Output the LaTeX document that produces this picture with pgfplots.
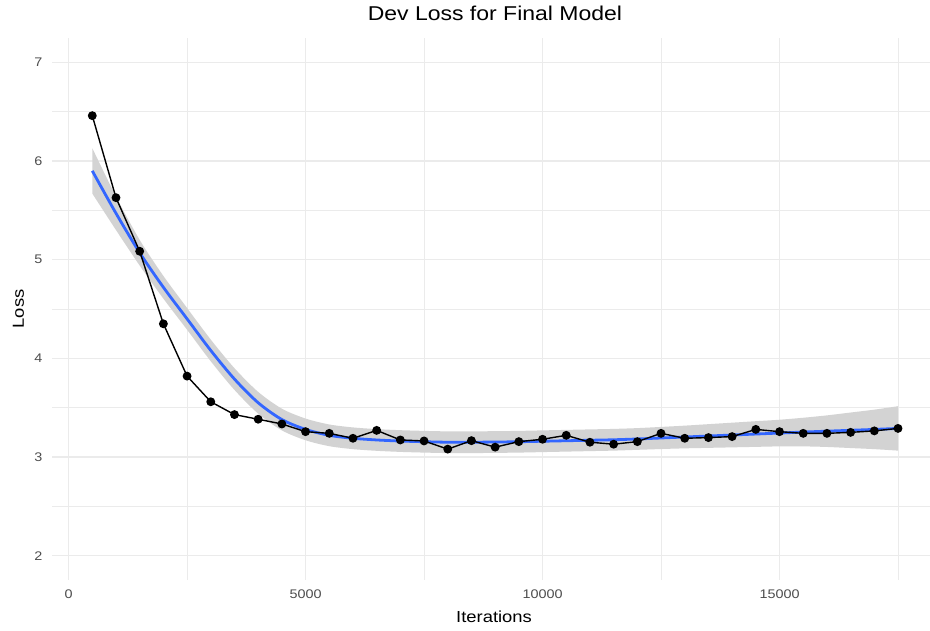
\documentclass[border=0pt]{standalone}
\usepackage{pgfplots}
\pgfplotsset{compat=1.18}
\usepackage{pgfplotstable}
\usepgfplotslibrary{fillbetween}
\usepackage{fontspec}
\setmainfont[FakeStretch=1.15]{Liberation Sans}
\definecolor{gridc}{HTML}{EBEBEB}
\definecolor{ribbonc}{HTML}{D3D3D3}
\definecolor{smoothblue}{HTML}{3366FF}
\definecolor{ticktext}{HTML}{4D4D4D}

\pgfplotstableread{
x y
500 6.459
1000 5.628
1500 5.085
2000 4.35
2500 3.82
3000 3.56
3500 3.43
4000 3.383
4500 3.335
5000 3.257
5500 3.24
6000 3.19
6500 3.27
7000 3.173
7500 3.163
8000 3.08
8500 3.166
9000 3.10
9500 3.156
10000 3.18
10500 3.22
11000 3.15
11500 3.13
12000 3.156
12500 3.24
13000 3.19
13500 3.197
14000 3.207
14500 3.28
15000 3.257
15500 3.24
16000 3.24
16500 3.25
17000 3.265
17500 3.29
}\lossdata

\pgfplotstableread{
x fit lo hi
500 5.90 5.67 6.13
1000 5.47 5.30 5.64
1500 5.07 4.94 5.20
2000 4.72 4.605 4.835
2500 4.40 4.29 4.51
3000 4.08 3.97 4.19
3500 3.79 3.68 3.90
4000 3.55 3.44 3.66
4500 3.38 3.27 3.49
5000 3.28 3.17 3.39
5500 3.22 3.11 3.33
6000 3.19 3.08 3.30
6500 3.173 3.063 3.283
7000 3.162 3.052 3.272
7500 3.155 3.045 3.265
8000 3.15 3.04 3.26
8500 3.15 3.04 3.26
9000 3.152 3.042 3.262
9500 3.155 3.045 3.265
10000 3.16 3.05 3.27
10500 3.165 3.055 3.275
11000 3.17 3.06 3.28
11500 3.175 3.065 3.285
12000 3.183 3.073 3.293
12500 3.193 3.081 3.305
13000 3.203 3.088 3.318
13500 3.213 3.093 3.333
14000 3.223 3.098 3.348
14500 3.233 3.103 3.363
15000 3.243 3.108 3.378
15500 3.253 3.108 3.398
16000 3.262 3.102 3.422
16500 3.271 3.091 3.451
17000 3.28 3.08 3.48
17500 3.29 3.065 3.515
}\fitdata

\begin{document}
\begin{tikzpicture}
\begin{axis}[
  at={(52pt,50pt)}, anchor=south west,
  scale only axis, width=878pt, height=542pt,
  xmin=-350, xmax=18175, ymin=1.754, ymax=7.246,
  xtick={0,5000,10000,15000}, ytick={2,3,4,5,6,7},
  minor xtick={2500,7500,12500,17500},
  minor ytick={2.5,3.5,4.5,5.5,6.5},
  scaled x ticks=false, scaled y ticks=false,
  grid=both,
  major grid style={draw=gridc, line width=1.1pt},
  minor grid style={draw=gridc, line width=0.7pt},
  axis line style={draw=none},
  tick style={draw=none},
  major tick length=0pt, minor tick length=0pt,
  /pgf/number format/assume math mode=true,
  /pgf/number format/1000 sep={},
  xticklabel style={font=\fontsize{12.5}{14}\selectfont, color=ticktext, yshift=-6pt},
  yticklabel style={font=\fontsize{12.5}{14}\selectfont, color=ticktext, xshift=-6pt},
  title={Dev Loss for Final Model},
  title style={font=\fontsize{20}{24}\selectfont, at={(axis description cs:0.5045,1.0208)}, anchor=base},
  xlabel={Iterations},
  xlabel style={font=\fontsize{16}{19}\selectfont, at={(axis description cs:0.5035,-0.0793)}, anchor=base},
  ylabel={Loss},
  ylabel style={font=\fontsize{16}{19}\selectfont, at={(axis description cs:-0.0319,0.5)}, anchor=base},
]
\addplot[name path=hi, draw=none, smooth, forget plot] table[x=x,y=hi]{\fitdata};
\addplot[name path=lo, draw=none, smooth, forget plot] table[x=x,y=lo]{\fitdata};
\addplot[fill=ribbonc, draw=none, forget plot] fill between[of=hi and lo];
\addplot[smoothblue, line width=2.8pt, smooth, no markers] table[x=x,y=fit]{\fitdata};
\addplot[black, line width=1.4pt, mark=*, mark size=3.7pt, mark options={fill=black}] table[x=x,y=y]{\lossdata};
\end{axis}
\pgfresetboundingbox
\path[use as bounding box] (0,0) rectangle (930pt,630pt);
\end{tikzpicture}
\end{document}
